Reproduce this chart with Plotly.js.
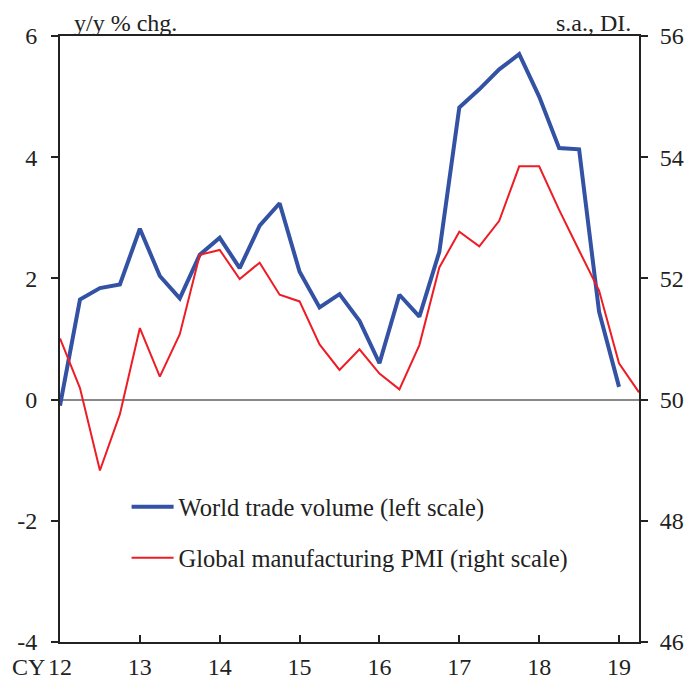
<!DOCTYPE html>
<html>
<head>
<meta charset="utf-8">
<script src="https://cdn.plot.ly/plotly-3.0.1.min.js"></script>
<style>html,body{margin:0;padding:0;background:#fff;}#chart{width:688px;height:679px;}</style>
</head>
<body>
<div id="chart"></div>
<script>
// Quarters (year.quarter), 2012Q1 .. 2019Q2
const quarters = ["12Q1","12Q2","12Q3","12Q4","13Q1","13Q2","13Q3","13Q4",
  "14Q1","14Q2","14Q3","14Q4","15Q1","15Q2","15Q3","15Q4",
  "16Q1","16Q2","16Q3","16Q4","17Q1","17Q2","17Q3","17Q4",
  "18Q1","18Q2","18Q3","18Q4","19Q1","19Q2"];

// World trade volume, y/y % chg. (left scale) — through 2019Q1
const tradeVolume = [-0.1, 1.65, 1.84, 1.90, 2.82, 2.04, 1.67, 2.39,
  2.67, 2.17, 2.87, 3.24, 2.11, 1.52, 1.74, 1.30,
  0.60, 1.73, 1.37, 2.44, 4.82, 5.12, 5.45, 5.70,
  5.00, 4.15, 4.13, 1.45, 0.21];

// Global manufacturing PMI, s.a., DI (right scale) — through 2019Q2
const pmi = [51.01, 50.19, 48.83, 49.76, 51.18, 50.38, 51.08, 52.39,
  52.47, 51.99, 52.26, 51.73, 51.62, 50.91, 50.49, 50.83,
  50.43, 50.17, 50.90, 52.18, 52.77, 52.53, 52.95, 53.85,
  53.85, 53.13, 52.46, 51.80, 50.60, 50.12];

const seriesNames = ["World trade volume (left scale)", "Global manufacturing PMI (right scale)"];

const xTickVals = [12, 13, 14, 15, 16, 17, 18, 19];
const xTickText = ["12", "13", "14", "15", "16", "17", "18", "19"];
const leftTickVals = [-4, -2, 0, 2, 4, 6];
const leftTickText = ["-4", "-2", "0", "2", "4", "6"];
const rightTickVals = [46, 48, 50, 52, 54, 56];
const rightTickText = ["46", "48", "50", "52", "54", "56"];

const xPos = quarters.map(q => {
  const [y, qq] = q.split("Q");
  return Number(y) + (Number(qq) - 1) / 4;
});

const FONT = "Liberation Serif, Times New Roman, serif";
const FS = 24;

const traces = [
  {
    x: xPos.slice(0, tradeVolume.length), y: tradeVolume,
    type: "scatter", mode: "lines", name: seriesNames[0],
    line: {color: "#3452A4", width: 4}, yaxis: "y", legendgroup: "a"
  },
  {
    x: xPos.slice(0, pmi.length), y: pmi,
    type: "scatter", mode: "lines", name: seriesNames[1],
    line: {color: "#EE1C25", width: 2}, yaxis: "y2", legendgroup: "b"
  }
];

const layout = {
  width: 688, height: 679,
  margin: {l: 60, r: 49, t: 36, b: 37},
  paper_bgcolor: "#fff", plot_bgcolor: "#fff",
  font: {family: FONT, size: FS, color: "#222"},
  showlegend: true,
  legend: {x: 0.115, y: 0.26, xanchor: "left", yanchor: "top",
    bgcolor: "rgba(0,0,0,0)", font: {family: FONT, size: 24.5, color: "#222"},
    traceorder: "grouped", tracegroupgap: 16, itemwidth: 42},
  xaxis: {
    range: [12, 19.25], tickvals: xTickVals, ticktext: xTickText,
    ticks: "inside", ticklen: 7, tickwidth: 2, tickcolor: "#222",
    ticklabelstandoff: 2,
    showline: true, linecolor: "#222", linewidth: 2, mirror: true,
    showgrid: false, zeroline: false, fixedrange: true
  },
  yaxis: {
    range: [-4, 6], tickvals: leftTickVals, ticktext: leftTickText,
    ticks: "outside", ticklen: 7, tickwidth: 2, tickcolor: "#222",
    ticklabelstandoff: 9,
    showline: true, linecolor: "#222", linewidth: 2,
    showgrid: false, zeroline: true, zerolinecolor: "#888", zerolinewidth: 2
  },
  yaxis2: {
    range: [46, 56], tickvals: rightTickVals, ticktext: rightTickText,
    overlaying: "y", side: "right",
    ticks: "outside", ticklen: 7, tickwidth: 2, tickcolor: "#222",
    ticklabelstandoff: 7,
    showline: true, linecolor: "#222", linewidth: 2,
    showgrid: false, zeroline: false
  },
  annotations: [
    {text: "y/y % chg.", xref: "paper", yref: "paper", x: 0.021, y: 1, xanchor: "left", yanchor: "bottom",
      yshift: -2, showarrow: false, font: {family: FONT, size: FS, color: "#222"}},
    {text: "s.a., DI.", xref: "paper", yref: "paper", x: 0.99, y: 1, xanchor: "right", yanchor: "bottom",
      yshift: -2, showarrow: false, font: {family: FONT, size: FS, color: "#222"}},
    {text: "CY", xref: "paper", yref: "paper", x: -0.022, y: 0, xanchor: "right", yanchor: "top", yshift: -10,
      showarrow: false, font: {family: FONT, size: FS, color: "#222"}}
  ]
};

Plotly.newPlot("chart", traces, layout, {displayModeBar: false, staticPlot: true});
</script>
</body>
</html>
